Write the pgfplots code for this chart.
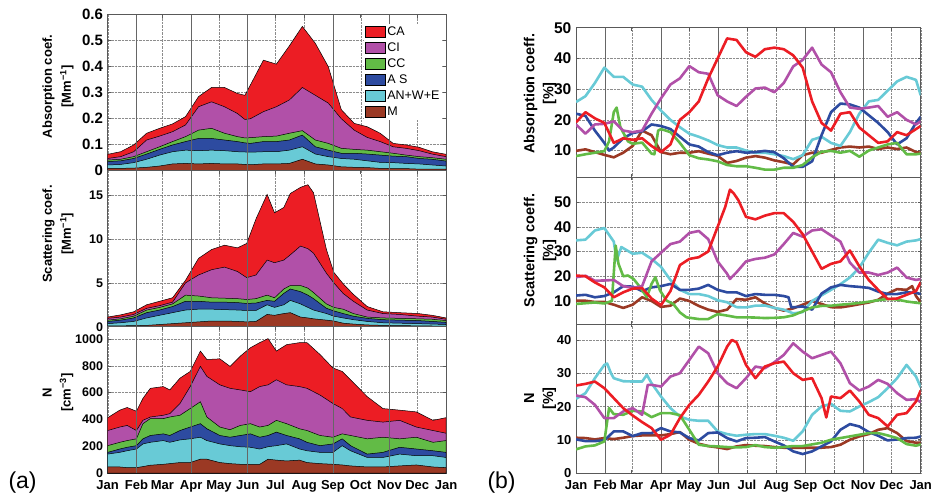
\documentclass[border=0pt]{standalone}
\usepackage{pgfplots}
\pgfplotsset{compat=1.18}
\usepackage{pgfplotstable}
\usepackage{fontspec}
\setmainfont{Liberation Sans}
\definecolor{cared}{RGB}{236,29,36}
\definecolor{cimag}{RGB}{177,80,168}
\definecolor{ccgreen}{RGB}{98,187,70}
\definecolor{asblue}{RGB}{45,75,160}
\definecolor{ancyan}{RGB}{104,202,214}
\definecolor{mbrown}{RGB}{155,57,36}

\pgfplotstableread{
day M AN AS CC CI CA
0 0.009 0.022 0.035 0.041 0.047 0.063
14 0.009 0.024 0.038 0.044 0.054 0.073
28 0.010 0.031 0.047 0.054 0.073 0.099
42 0.013 0.044 0.064 0.073 0.118 0.144
56 0.018 0.060 0.082 0.092 0.133 0.163
70 0.026 0.073 0.099 0.112 0.150 0.180
84 0.028 0.079 0.112 0.131 0.176 0.208
98 0.026 0.077 0.124 0.156 0.246 0.285
112 0.028 0.079 0.124 0.163 0.265 0.320
126 0.026 0.077 0.118 0.144 0.246 0.320
140 0.026 0.073 0.112 0.131 0.220 0.297
148 0.024 0.072 0.107 0.126 0.197 0.290
154 0.023 0.071 0.105 0.127 0.200 0.330
168 0.026 0.073 0.112 0.131 0.227 0.425
182 0.026 0.073 0.112 0.133 0.246 0.410
196 0.028 0.079 0.118 0.144 0.272 0.480
210 0.044 0.092 0.137 0.154 0.320 0.555
224 0.026 0.064 0.092 0.118 0.290 0.490
238 0.022 0.054 0.079 0.105 0.260 0.400
252 0.015 0.047 0.067 0.086 0.200 0.235
266 0.013 0.044 0.067 0.082 0.156 0.182
280 0.012 0.038 0.064 0.079 0.128 0.169
294 0.009 0.032 0.060 0.073 0.112 0.144
308 0.008 0.031 0.056 0.067 0.092 0.105
322 0.008 0.028 0.054 0.060 0.086 0.099
336 0.006 0.026 0.047 0.054 0.077 0.090
350 0.006 0.022 0.044 0.050 0.064 0.073
365 0.006 0.018 0.037 0.044 0.054 0.063
}\Lone

\pgfplotstableread{
day M AN AS CC CI CA
0 0.08 0.35 0.6 0.75 0.95 1.1
14 0.10 0.45 0.75 0.9 1.1 1.35
28 0.12 0.6 1.0 1.2 1.4 1.7
42 0.15 1.0 1.6 1.9 2.1 2.5
56 0.25 1.3 1.9 2.2 2.4 2.9
70 0.35 1.6 2.3 2.6 2.8 3.3
84 0.45 1.9 2.9 3.6 5.0 5.3
98 0.55 2.0 2.9 3.5 5.9 7.8
112 0.65 2.0 2.8 3.3 6.5 8.8
126 0.65 1.95 2.8 3.25 6.8 9.3
140 0.6 1.9 2.75 3.2 6.3 9.0
150 0.55 1.85 2.65 3.1 5.6 9.5
160 0.6 1.85 2.7 3.2 5.9 12.3
172 1.4 2.5 3.0 3.6 7.6 15.1
180 1.3 2.2 2.9 3.3 7.3 13.0
190 1.5 2.5 3.8 4.3 7.6 13.6
197 1.6 3.0 4.3 4.7 8.2 15.2
208 1.1 2.6 4.0 4.7 9.2 15.9
216 1.0 2.2 3.6 4.4 8.9 16.2
222 0.9 1.9 3.2 3.9 8.4 15.3
236 0.75 1.5 2.1 2.6 6.1 8.8
244 0.65 1.2 1.8 2.2 5.0 6.2
254 0.4 1.0 1.5 2.0 3.8 4.9
265 0.3 0.8 1.2 1.5 2.9 3.7
280 0.2 0.6 0.95 1.1 1.9 2.3
297 0.15 0.45 0.8 1.0 1.5 1.7
315 0.12 0.4 0.75 0.95 1.4 1.6
335 0.1 0.35 0.7 0.9 1.2 1.5
350 0.08 0.3 0.6 0.85 1.1 1.3
365 0.05 0.25 0.5 0.7 0.85 1.0
}\Ltwo

\pgfplotstableread{
day M AN AS CC CI CA
0 45 141 154 204 317 413
13 45 154 179 229 343 469
21 40 166 192 242 355 489
31 40 179 204 255 317 461
38 48 217 255 368 393 557
46 58 229 280 406 418 632
60 65 242 292 406 431 645
67 70 229 280 418 443 620
78 78 247 317 431 519 708
89 78 255 343 481 645 758
100 103 267 368 532 796 910
107 103 242 330 418 721 847
121 78 217 280 343 658 852
132 70 204 267 323 632 796
143 65 196 280 355 620 872
154 65 192 292 368 607 935
164 65 179 267 343 645 973
173 103 196 280 355 658 1003
182 96 204 305 393 696 910
193 90 217 280 368 658 958
207 96 179 255 330 645 973
215 78 166 229 317 632 973
229 70 154 204 280 582 885
243 65 154 217 267 519 784
253 60 204 255 292 481 758
262 53 166 204 280 418 696
280 45 116 141 255 393 570
297 45 116 154 267 380 481
315 53 141 192 255 393 469
333 60 129 179 267 343 456
351 45 129 166 229 317 393
365 40 116 154 242 297 413
}\Lthree

\pgfplotsset{
  base/.style={
    scale only axis, xmin=0, xmax=365, no markers,
    xtick={0,31,59,90,120,151,181,212,243,273,304,334,365},
    xticklabels={},
    grid=major, major grid style={densely dotted, black!45, line width=0.4pt},
    axis line style={black!65, line width=0.6pt},
    tick style={black!65, line width=0.5pt},
    tick align=inside, major tick length=3pt,
    /pgf/number format/assume math mode=true,
    /pgf/number format/1000 sep={},
    x tick label style={font=\bfseries\fontsize{13}{15}\selectfont, inner sep=0.5pt, text height=9.5pt, text depth=2.5pt, yshift=-6.3pt},
    y tick label style={inner sep=0.5pt, text depth=0pt, xshift=-4pt},
    y label style={anchor=center, align=center},
  },
  months/.style={xticklabels={Jan,Feb,Mar,Apr,May,Jun,Jul,Aug,Sep,Oct,Nov,Dec,Jan}},
  area/.style={draw=black, line width=0.5pt, fill=#1},
  ln/.style={draw=#1, line width=2.6pt, line join=round},
}
\newcommand{\seasonlines}{\pgfplotsinvokeforeach{31,90,151,243,304}{\draw[black!60, line width=0.5pt] ({axis cs:##1,0}|-{rel axis cs:0,0}) -- ({axis cs:##1,0}|-{rel axis cs:0,1});}}

\begin{document}
\begin{tikzpicture}
\path[use as bounding box] (0pt,0pt) rectangle (933pt,495pt);

% ---------- left column ----------
\begin{axis}[base, at={(107.7pt,324.3pt)}, anchor=south west, width=338.3pt, height=156pt,
  ymin=0, ymax=0.6, ytick={0,0.1,0.2,0.3,0.4,0.5,0.6},
  y tick label style={font=\bfseries\fontsize{15}{17}\selectfont},
  ylabel={Absorption coef.\\{[Mm\textsuperscript{−1}]}},
  y label style={at={(axis description cs:-0.147,0.54)}, font=\bfseries\fontsize{13}{19}\selectfont},
  legend image code/.code={\draw[#1, draw=black, line width=0.4pt] (0pt,-5.5pt) rectangle (20pt,5.5pt);},
  legend style={at={(axis description cs:0.758,0.94)}, anchor=north west, draw=none, fill=white,
    inner sep=1pt, row sep=2.6pt, nodes={inner sep=1.6pt, font=\fontsize{12.5}{14}\selectfont}},
  legend cell align=left]
\addplot[area=cared] table[x=day,y=CA]{\Lone} \closedcycle;
\addplot[area=cimag] table[x=day,y=CI]{\Lone} \closedcycle;
\addplot[area=ccgreen] table[x=day,y=CC]{\Lone} \closedcycle;
\addplot[area=asblue] table[x=day,y=AS]{\Lone} \closedcycle;
\addplot[area=ancyan] table[x=day,y=AN]{\Lone} \closedcycle;
\addplot[area=mbrown] table[x=day,y=M]{\Lone} \closedcycle;
\legend{CA,CI,CC,A S,AN+W+E,M}
\seasonlines
\end{axis}

\begin{axis}[base, at={(107.7pt,168.3pt)}, anchor=south west, width=338.3pt, height=156pt,
  ymin=0, ymax=17.8, ytick={0,5,10,15},
  y tick label style={font=\bfseries\fontsize{12.5}{15}\selectfont},
  ylabel={Scattering coef.\\{[Mm\textsuperscript{−1}]}},
  y label style={at={(axis description cs:-0.147,0.594)}, font=\bfseries\fontsize{13}{19}\selectfont}]
\addplot[area=cared] table[x=day,y=CA]{\Ltwo} \closedcycle;
\addplot[area=cimag] table[x=day,y=CI]{\Ltwo} \closedcycle;
\addplot[area=ccgreen] table[x=day,y=CC]{\Ltwo} \closedcycle;
\addplot[area=asblue] table[x=day,y=AS]{\Ltwo} \closedcycle;
\addplot[area=ancyan] table[x=day,y=AN]{\Ltwo} \closedcycle;
\addplot[area=mbrown] table[x=day,y=M]{\Ltwo} \closedcycle;
\seasonlines
\end{axis}

\begin{axis}[base, months, at={(107.7pt,22pt)}, anchor=south west, width=338.3pt, height=146.3pt,
  ymin=0, ymax=1092, ytick={0,200,400,600,800,1000},
  y tick label style={font=\bfseries\fontsize{12.5}{15}\selectfont},
  ylabel={N\\{[cm\textsuperscript{−3}]}},
  y label style={at={(axis description cs:-0.147,0.55)}, font=\bfseries\fontsize{13}{19}\selectfont}]
\addplot[area=cared] table[x=day,y=CA]{\Lthree} \closedcycle;
\addplot[area=cimag] table[x=day,y=CI]{\Lthree} \closedcycle;
\addplot[area=ccgreen] table[x=day,y=CC]{\Lthree} \closedcycle;
\addplot[area=asblue] table[x=day,y=AS]{\Lthree} \closedcycle;
\addplot[area=ancyan] table[x=day,y=AN]{\Lthree} \closedcycle;
\addplot[area=mbrown] table[x=day,y=M]{\Lthree} \closedcycle;
\seasonlines
\end{axis}

% ---------- right column ----------
\begin{axis}[base, at={(576pt,317.7pt)}, anchor=south west, width=344.7pt, height=149.6pt,
  ymin=1.3, ymax=50, ytick={10,20,30,40,50},
  y tick label style={font=\bfseries\fontsize{15.5}{17}\selectfont},
  ylabel={Absorption coeff.\\{[\%]}},
  y label style={at={(axis description cs:-0.1044,0.56)}, font=\bfseries\fontsize{14.5}{19}\selectfont}]
\seasonlines
\addplot[ln=mbrown] coordinates {(0,9.9)(10,10.4)(20,9.5)(30,8.6)(40,7.8)(50,9.3)(60,11.5)(70,16.5)(80,15)(90,9.5)(100,8.8)(110,9.3)(120,9.3)(130,9.8)(140,9)(150,8.3)(160,6)(170,6.6)(180,7.7)(190,8.2)(200,7.7)(210,6.8)(220,6.2)(230,5.5)(240,8.5)(250,9.3)(260,9.3)(270,10.2)(280,11)(290,11.3)(300,11)(310,11.3)(320,10.5)(330,11)(340,10.5)(350,11)(360,9.5)(365,9.3)};
\addplot[ln=ancyan] coordinates {(0,25.8)(10,27.7)(20,32)(30,37)(40,34)(50,34)(60,31.5)(70,30.8)(80,26.5)(90,23)(100,20)(110,17.6)(120,15.5)(130,14.5)(140,13.3)(150,11.8)(160,11)(170,11)(180,10)(190,9.3)(200,9.3)(210,8.8)(220,8.2)(230,7.2)(240,8.5)(250,13.5)(260,14.5)(270,12.5)(280,11.5)(290,16)(300,22)(310,26)(320,26.5)(330,29.5)(340,32.5)(350,34)(360,33)(365,28)};
\addplot[ln=asblue] coordinates {(0,22)(10,21.3)(20,16.5)(30,12.5)(35,10)(40,11)(50,14)(60,15.7)(70,16.3)(80,18.5)(90,18)(100,17)(110,14.5)(120,12)(130,11.3)(140,9.5)(150,8.5)(160,9.3)(170,9.8)(180,9.3)(190,9.5)(200,9.9)(210,9.5)(220,7.5)(230,4.7)(240,4.7)(250,6.5)(260,15)(270,22.5)(280,25.3)(290,25)(300,24)(310,21.5)(320,19)(330,16)(340,12)(350,14)(360,19)(365,21)};
\addplot[ln=ccgreen] coordinates {(0,8.2)(10,8.8)(20,9.3)(30,9.8)(35,13)(40,22.5)(43,24)(47,17.6)(55,13)(60,12.2)(70,12.6)(80,9)(83,8.8)(87,16.5)(90,17)(100,16)(110,12.5)(120,8.5)(130,7.5)(140,7.1)(150,6.5)(160,5.3)(170,4.9)(180,4.9)(190,4.4)(200,3.8)(210,3.8)(220,4.4)(230,4.4)(240,5.3)(250,7.8)(260,9.6)(270,9.9)(280,9.3)(290,9.9)(300,8)(310,10)(320,11)(330,12)(340,12.5)(350,8.8)(360,8.8)(365,9)};
\addplot[ln=cimag] coordinates {(0,18.5)(10,15.5)(20,18.5)(30,18.7)(40,19.5)(50,16.5)(60,16)(70,16.5)(80,22)(90,27)(100,31.5)(110,33.5)(120,37.5)(130,35.5)(140,35)(150,28)(160,26)(170,24.5)(180,27.5)(190,30.2)(200,30.5)(210,29)(220,32)(230,37.4)(240,39.5)(250,43.5)(260,38)(270,35.5)(280,29)(290,24)(300,23.6)(310,24)(320,24.5)(330,21)(340,22.5)(350,20)(360,18.5)(365,19.5)};
\addplot[ln=cared] coordinates {(0,19.2)(10,22.5)(20,20.5)(30,19)(40,12.5)(50,14)(60,13.5)(70,14)(80,11.5)(90,9.5)(100,12)(110,20)(120,22.5)(130,26)(140,33.5)(150,40)(160,46.5)(170,46)(180,42)(190,40.5)(200,43)(210,43.5)(220,43)(230,41)(240,37)(250,26)(260,19)(270,16.5)(280,22)(290,22.5)(300,17.5)(310,15)(320,12.5)(330,13)(340,16)(350,15)(360,17)(365,18)};
\end{axis}

\begin{axis}[base, at={(576pt,171pt)}, anchor=south west, width=344.7pt, height=146.7pt,
  ymin=0.7, ymax=60, ytick={10,20,30,40,50},
  y tick label style={font=\bfseries\fontsize{15.5}{17}\selectfont},
  ylabel={Scattering coeff.\\{[\%]}},
  y label style={at={(axis description cs:-0.1044,0.50)}, font=\bfseries\fontsize{14.5}{19}\selectfont}]
\seasonlines
\addplot[ln=mbrown] coordinates {(0,10.1)(10,10.1)(20,9.6)(30,9.6)(40,8.5)(50,7.2)(60,8.5)(70,11.5)(80,10)(90,7.6)(100,8.1)(110,11)(120,10)(130,8)(140,6.5)(150,5.6)(160,6.5)(170,10.8)(180,10.5)(190,11.5)(200,9)(210,7.2)(220,6.1)(230,7)(240,8.5)(250,10)(260,8.8)(270,7.5)(280,7.4)(290,8)(300,8.7)(310,9.4)(320,10.5)(330,13)(340,14.8)(350,14.5)(356,16)(360,12)(365,9.5)};
\addplot[ln=ancyan] coordinates {(0,34.5)(10,34.8)(20,38.5)(30,39.5)(40,34)(43,26.4)(48,31.8)(60,29.1)(70,29.5)(80,27)(90,23.8)(100,18.5)(110,14.5)(120,12.8)(130,12.8)(140,12)(150,10.3)(160,9.5)(170,7.5)(180,7.4)(190,8.1)(200,8.2)(210,7.2)(220,6.5)(230,5)(240,5.5)(250,10)(260,12.3)(270,14.5)(280,16.8)(290,19.5)(300,23.5)(310,29.5)(320,34.8)(330,33.5)(340,32.5)(350,34)(360,34.5)(365,35)};
\addplot[ln=asblue] coordinates {(0,12.2)(10,12.5)(20,11.5)(30,12)(40,13.5)(50,16)(60,15.8)(70,14)(80,15.5)(90,16)(100,16.9)(110,14.5)(120,14.5)(130,15)(140,16.5)(150,14.5)(160,13.5)(170,13.5)(180,12)(190,12.8)(200,12.5)(210,12.5)(220,12)(225,11.5)(228,7.4)(240,7.8)(250,6.5)(260,13)(270,15.5)(280,16.5)(290,16)(300,15.7)(310,15.3)(320,13.8)(330,12.8)(340,12.8)(350,13.5)(360,13.3)(365,12.8)};
\addplot[ln=ccgreen] coordinates {(0,8.8)(10,9.1)(20,9.4)(30,9)(38,10)(42,32.4)(45,25)(50,20)(55,20.3)(61,18.9)(68,15.5)(75,11.5)(80,16.9)(84,19.6)(89,14.2)(96,10.1)(103,8.8)(110,5.4)(117,3.4)(130,2.7)(140,2.7)(150,4.7)(160,4.1)(170,3.4)(180,3.4)(190,3.3)(200,3.1)(210,3.2)(220,3.4)(230,4.2)(240,5.8)(250,7.4)(260,8)(270,8.1)(280,8.5)(290,8.8)(300,9.2)(310,9.7)(320,10.3)(330,10.8)(340,10.6)(350,9.8)(360,9.3)(365,9.1)};
\addplot[ln=cimag] coordinates {(0,19.6)(10,20.2)(20,18.2)(30,18.3)(40,18.5)(50,16)(60,15.3)(70,16)(80,26)(90,29.5)(100,33)(110,34)(120,37.5)(130,38.3)(140,35)(150,26)(160,21)(163,18.9)(170,21.6)(180,26)(190,27)(200,27.5)(210,28.8)(220,33)(230,37.5)(240,36)(250,38.5)(260,39)(270,36.5)(280,34)(290,25.5)(300,21.5)(310,21.5)(320,20.5)(330,21.5)(340,23.5)(350,19.5)(360,18.5)(365,18.9)};
\addplot[ln=cared] coordinates {(0,20.3)(10,20)(20,17.5)(30,15.5)(40,11.5)(50,13.5)(60,15)(70,15.2)(80,11)(90,8.3)(100,14)(110,24.5)(120,27)(130,27.7)(140,30)(150,40)(158,48)(163,55)(167,53.5)(172,50.7)(180,44)(190,43)(200,44.5)(210,45.5)(220,45.5)(230,42)(240,37)(250,30)(260,23)(270,25)(280,26)(290,30.4)(300,24)(310,18.5)(320,14.5)(330,10.8)(340,11)(350,12.5)(360,14)(365,17.6)};
\end{axis}

\begin{axis}[base, months, at={(576pt,22pt)}, anchor=south west, width=344.7pt, height=149pt,
  ymin=0, ymax=44.8, ytick={0,10,20,30,40},
  y tick label style={font=\bfseries\fontsize{13}{16}\selectfont},
  ylabel={N\\{[\%]}},
  y label style={at={(axis description cs:-0.1044,0.50)}, font=\bfseries\fontsize{14.5}{19}\selectfont}]
\seasonlines
\addplot[ln=mbrown] coordinates {(0,10.6)(10,10.5)(20,10.1)(30,10.5)(40,10.2)(50,10.6)(60,11.1)(70,11.3)(80,11.3)(90,11.3)(100,11.7)(110,12.3)(120,10)(130,8.8)(140,8.1)(150,7.7)(160,7.2)(170,8)(180,8.4)(190,8.2)(200,8.1)(210,7.8)(220,7.6)(230,7.6)(240,7.6)(250,7.6)(260,7.6)(270,7.8)(280,8.5)(290,10)(300,11)(310,11.7)(320,13)(330,13.5)(340,12)(350,9.6)(360,9.1)(365,9.1)};
\addplot[ln=ancyan] coordinates {(0,22.3)(10,24)(20,28.5)(30,32.5)(33,32.9)(37,30)(40,28.5)(50,27.6)(60,27.5)(70,27.5)(75,29.5)(80,27)(90,23)(100,19.5)(110,17)(120,16)(130,15.7)(140,15.7)(150,12.5)(160,11.7)(170,11.2)(180,11.5)(190,11.7)(200,11.7)(210,11.2)(220,10.6)(230,9.7)(240,12.5)(250,17.5)(260,20)(270,20.8)(280,18.7)(290,18.5)(300,20)(310,21.3)(320,22.8)(330,25.5)(340,28.5)(350,32.5)(360,29)(365,25.8)};
\addplot[ln=asblue] coordinates {(0,10.1)(10,9.6)(20,9.6)(30,9.8)(40,12.5)(50,12.5)(60,11.1)(70,12)(80,12)(90,13.5)(100,12.5)(110,12.2)(120,10.5)(130,9.8)(140,12)(150,12.2)(160,10.5)(170,9.5)(180,10.5)(190,10.6)(200,10.8)(210,9.5)(220,8.3)(230,6.5)(240,5.7)(250,6.5)(260,8)(270,9.5)(280,13)(290,14.7)(300,14)(310,12.3)(320,11.2)(330,9.8)(340,10.1)(350,10.5)(360,10.6)(365,11)};
\addplot[ln=ccgreen] coordinates {(0,7.1)(10,8)(20,8.3)(30,9.5)(35,19.5)(40,17.7)(50,17.5)(60,18.7)(70,18.5)(80,16.8)(90,18)(100,18)(110,17.4)(120,13)(130,8.5)(140,8.1)(150,8)(160,7.8)(170,7.7)(180,7.8)(190,8.4)(200,7.8)(210,7.6)(220,7.8)(230,8.1)(240,8.1)(250,8.6)(260,9.1)(270,10)(280,10.5)(290,11)(300,11.5)(310,12)(320,12)(330,11.3)(340,10.5)(350,8.7)(360,8.2)(365,8.6)};
\addplot[ln=cimag] coordinates {(0,23.3)(10,22.8)(20,20.5)(30,16.5)(40,16.5)(50,18.5)(60,19.5)(70,17.5)(76,26.5)(80,26.5)(90,26)(100,29)(110,30)(120,34)(130,38)(140,36)(150,30)(160,27)(170,25.5)(180,28.5)(190,32)(200,31.5)(210,33.3)(220,35.5)(230,39)(240,36.5)(250,34.5)(260,35.5)(270,36.5)(280,33)(290,27)(300,24.8)(310,26)(320,28)(330,26.8)(340,24)(350,22)(360,22.2)(365,21.3)};
\addplot[ln=cared] coordinates {(0,26.3)(10,26.8)(20,27.5)(30,25.5)(40,22.5)(50,19.5)(60,17.3)(70,15.3)(80,13.5)(90,10)(100,11.5)(110,16.5)(120,20.5)(130,23.5)(140,27.5)(150,32)(160,38)(165,40)(170,39.3)(180,32.5)(190,28.5)(200,32)(210,33)(220,33.5)(230,30)(240,28)(250,28.5)(260,22.5)(265,16.7)(270,23)(280,22.5)(290,24.8)(300,21.5)(310,17.5)(320,16.5)(330,14)(340,17.5)(350,18)(360,21.5)(365,24.8)};
\end{axis}

\node[anchor=base west, font=\fontsize{23}{25}\selectfont] at (5pt,7pt) {(a)};
\node[anchor=base west, font=\fontsize{23}{25}\selectfont] at (484pt,7pt) {(b)};
\end{tikzpicture}
\end{document}
